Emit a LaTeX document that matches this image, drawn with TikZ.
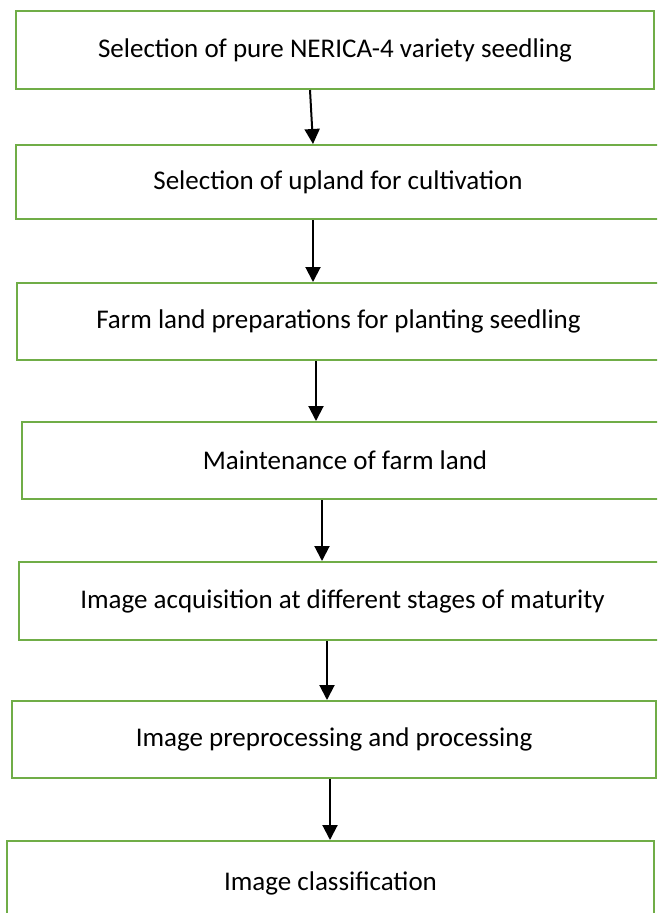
\documentclass[tikz,border=0pt]{standalone}
\usepackage{fontspec}
\setmainfont{Carlito}
\usetikzlibrary{arrows.meta}
\definecolor{boxgreen}{HTML}{70AD47}
\tikzset{
    stagebox/.style={draw=boxgreen,line width=2pt,rectangle,align=center,
        font=\fontsize{27}{32}\selectfont},
    flowarrow/.style={draw=black,line width=2pt,-{Triangle[length=15pt,width=15pt]}}
}
\begin{document}
\begin{tikzpicture}[x=1pt,y=-1pt]
    \clip (0,0) rectangle (657,913);
    %% stages
    \node[stagebox,minimum width=638,minimum height=78] (b1) at (335,50)
        {Selection of pure NERICA-4 variety seedling};
    \node[stagebox,minimum width=644,minimum height=74] (b2) at (338,182)
        {Selection of upland for cultivation};
    \node[stagebox,minimum width=643,minimum height=77] (b3) at (338.5,321.5)
        {Farm land preparations for planting seedling};
    \node[stagebox,minimum width=646,minimum height=77] (b4) at (345,460.5)
        {Maintenance of farm land};
    \node[stagebox,minimum width=647,minimum height=78] (b5) at (342.5,601)
        {Image acquisition at different stages of maturity};
    \node[stagebox,minimum width=644,minimum height=77] (b6) at (334,739.5)
        {Image preprocessing and processing};
    \node[stagebox,minimum width=647,minimum height=84] (b7) at (330.5,883)
        {Image classification};
    %% arrows
    \foreach \a/\b/\s/\t in {b1/b2/-25/-25, b2/b3/-25/-25.5, b3/b4/-22.5/-29,
                              b4/b5/-23/-20.5, b5/b6/-15.5/-7, b6/b7/-4/-0.5}
        \draw[flowarrow] ([xshift=\s]\a.south) -- ([xshift=\t]\b.north);
\end{tikzpicture}
\end{document}
